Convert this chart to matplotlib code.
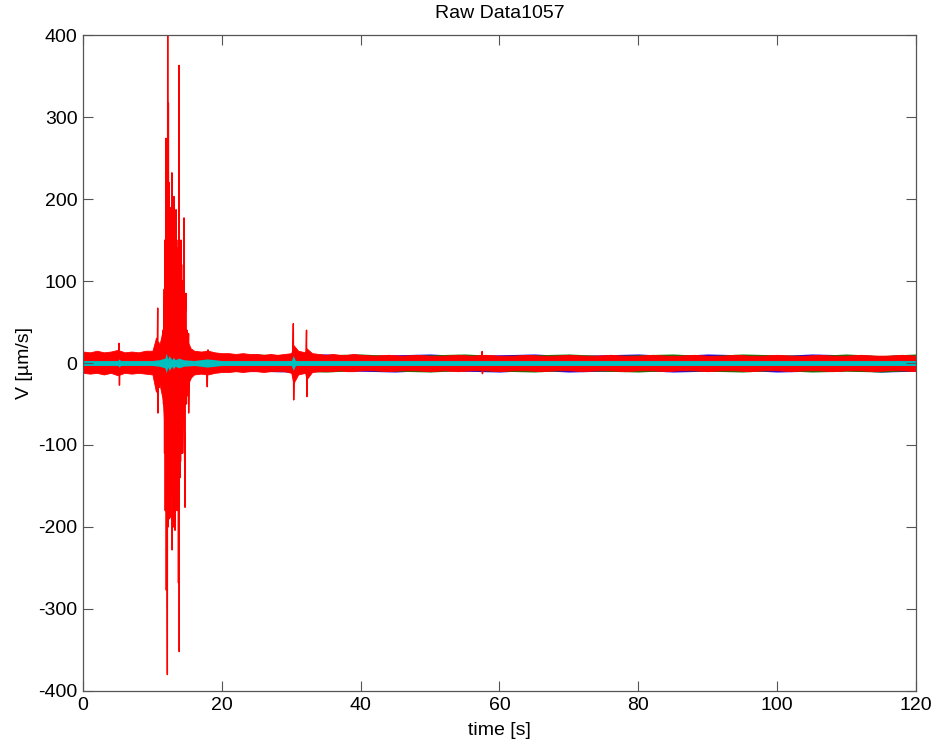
import matplotlib
matplotlib.use("Agg")
import matplotlib.pyplot as plt

plt.rcParams["font.family"] = ["Liberation Sans", "DejaVu Sans"]
plt.rcParams["axes.unicode_minus"] = False

# ---- data (time in s, velocity in um/s) ----
# noise band of the red channel: upper / lower envelope
band_t = [0, 1, 2, 3, 4, 5, 6, 7, 8, 9, 10,
          10.5, 11, 11.5, 11.8, 12, 12.5, 13, 13.5, 14, 14.5, 15, 15.5, 16,
          17, 18, 19, 20, 21, 22, 23, 24, 25, 26, 27, 28, 29, 30,
          30.3, 31, 32, 32.2, 33, 34, 35, 36, 37, 38, 39, 40,
          42, 44, 46, 48, 50, 52, 54, 56, 58, 60,
          62, 64, 66, 68, 70, 72, 74, 76, 78, 80,
          82, 84, 86, 88, 90, 92, 94, 96, 98, 100,
          102, 104, 106, 108, 110, 112, 114, 116, 118, 120]
red_hi = [14, 13, 15, 13, 14, 16, 13, 14, 13, 15, 15,
          30, 22, 40, 80, 100, 105, 100, 90, 70, 50, 28, 18, 15,
          14, 15, 13, 12, 12, 11, 12, 11, 11, 10, 11, 10, 11, 12,
          22, 15, 13, 18, 12, 11, 10, 11, 10, 10, 11, 10,
          9, 10, 9, 10, 9, 9, 10, 9, 10, 9,
          9, 10, 9, 9, 10, 9, 9, 10, 9, 9,
          10, 9, 9, 10, 9, 9, 10, 9, 9, 10,
          9, 9, 10, 9, 9, 10, 9, 9, 10, 9]
red_lo = [-12, -13, -12, -14, -12, -15, -12, -13, -12, -13, -14,
          -35, -25, -45, -90, -110, -110, -105, -95, -75, -45, -30, -18, -14,
          -13, -14, -12, -11, -11, -10, -11, -10, -10, -11, -10, -10, -10, -12,
          -25, -14, -12, -20, -11, -10, -10, -10, -9, -10, -10, -9,
          -9, -10, -9, -9, -10, -9, -10, -9, -9, -10,
          -9, -9, -10, -9, -9, -10, -9, -9, -10, -9,
          -9, -10, -9, -9, -10, -9, -9, -10, -9, -9,
          -10, -9, -9, -10, -9, -9, -10, -9, -9, -10]

# blue / green channels, only their edges peek out from under the red band
bg_t = [0, 5, 10, 15, 20, 25, 30, 35, 40, 45, 50, 55, 60,
        65, 70, 75, 80, 85, 90, 95, 100, 105, 110, 115, 120]
blue_hi = [12, 11, 12, 14, 10, 9, 10, 11, 9, 10, 11, 9, 10,
           11, 9, 10, 11, 9, 11, 10, 9, 11, 10, 9, 10]
blue_lo = [-11, -10, -12, -14, -9, -10, -11, -9, -10, -11, -9, -10, -11,
           -9, -11, -10, -9, -11, -10, -9, -11, -10, -9, -11, -10]
green_hi = [11, 12, 11, 13, 9, 11, 9, 10, 11, 9, 10, 11, 9,
            10, 11, 9, 10, 11, 9, 11, 10, 9, 11, 9, 11]
green_lo = [-10, -11, -11, -13, -10, -9, -10, -11, -9, -10, -11, -9, -10,
            -11, -9, -10, -11, -9, -10, -11, -9, -11, -10, -11, -9]

# cyan channel
cy_t = [0, 5, 5.2, 5.4, 10, 11, 11.8, 12.0, 12.2, 12.4, 12.8, 13.0, 13.3,
        13.8, 14.5, 16, 17.9, 20, 30, 30.3, 30.6, 40, 60, 80, 100, 120]
cy_hi = [3, 3, 5, 3, 3, 4, 6, 12, 5, 9, 4, 7, 4, 6, 4, 3, 5, 3, 3, 9, 3, 3,
         3, 3, 3, 3]
cy_lo = [-3, -3, -5, -3, -3, -4, -6, -12, -5, -9, -4, -7, -4, -6, -4, -3, -5,
         -3, -3, -9, -3, -3, -3, -3, -3, -3]

# individual red spikes
spike_t = [5.1, 5.2, 5.25, 5.3,
           10.4, 10.6, 10.65, 10.76, 10.8, 10.9, 10.95, 11.1, 11.2,
           11.5, 11.6, 11.7, 11.75, 11.8, 11.85, 11.96, 12.0, 12.05, 12.1,
           12.15, 12.2, 12.25, 12.3, 12.35, 12.4, 12.45, 12.5, 12.55, 12.6,
           12.65, 12.7, 12.75, 12.8, 12.85, 12.9, 12.95, 13.0, 13.05, 13.1,
           13.15, 13.2, 13.25, 13.3, 13.35, 13.4, 13.45, 13.5, 13.55, 13.6,
           13.65, 13.7, 13.75, 13.83, 13.86, 13.9, 13.95, 14.0, 14.05, 14.1,
           14.15, 14.2, 14.25, 14.3, 14.35, 14.4, 14.45, 14.5, 14.55, 14.6,
           14.7, 14.75, 14.84, 14.9, 15.0, 15.1, 15.2, 15.22, 15.35, 15.5, 15.7,
           17.8, 17.9, 18.0, 18.1,
           30.2, 30.3, 30.35, 30.45,
           32.1, 32.2, 32.25, 32.35,
           57.4, 57.5, 57.55, 57.6]
spike_v = [0, 24, -27, 0,
           0, 30, -35, 67, -61, 25, -30, 20, -20,
           40, -50, 90, -110, 150, -180, 274, -277, 200, -210,
           -380, 410, -200, 317, -150, 220, -190, 160, -188, 170,
           -160, 190, -140, 232, -228, 180, -170, 150, -200, 203,
           -150, 170, -204, 140, -160, 187, -150, 150, -180, 120,
           -170, 140, -268, 363, -352, 130, -140, 100, -120, 150,
           -110, 120, -90, 100, -110, 80, -70, 90, 177, -80,
           -176, 60, 85, -50, 40, -40, 36, -61, 20, -20, 0,
           0, -29, 16, 0,
           0, 48, -45, 0,
           0, 40, -41, 0,
           0, 14, -13, 0]

BLUE, GREEN, RED, CYAN = "#0000ff", "#008000", "#ff0000", "#00bfbf"
FRAME = "#555555"

fig = plt.figure(figsize=(9.38, 7.5), dpi=100, facecolor="white")
ax = fig.add_axes([0.0885, 0.0787, 0.888, 0.8746])

ax.fill_between(bg_t, blue_lo, blue_hi, color=BLUE, lw=0, zorder=1)
ax.fill_between(bg_t, green_lo, green_hi, color=GREEN, lw=0, zorder=1.1)
ax.fill_between(band_t, red_lo, red_hi, color=RED, lw=0.6, edgecolor=RED,
                zorder=1.2)
ax.plot(spike_t, spike_v, color=RED, lw=1.0, zorder=1.3)
ax.fill_between(cy_t, cy_lo, cy_hi, color=CYAN, lw=0, zorder=1.4)

ax.set_xlim(0, 120)
ax.set_ylim(-400, 400)
ax.set_xticks(range(0, 121, 20))
ax.set_yticks(range(-400, 401, 100))
ax.tick_params(direction="in", length=7, width=0.8, color=FRAME,
               top=True, right=True, labelsize=14, pad=4)
for s in ax.spines.values():
    s.set_color(FRAME)
    s.set_linewidth(0.9)
    s.set_zorder(3)

ax.set_title("Raw Data1057", fontsize=14, pad=12)
ax.set_xlabel("time [s]", fontsize=14, labelpad=6)
ax.set_ylabel("V [\u00b5m/s]", fontsize=14, labelpad=4)

fig.savefig("out.png", dpi=100, facecolor="white")
